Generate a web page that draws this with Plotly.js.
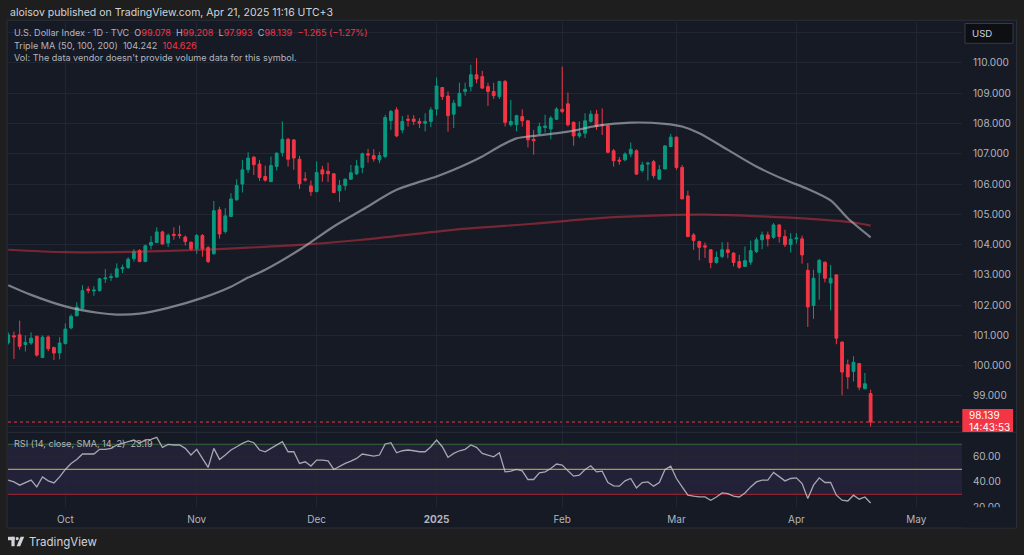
<!DOCTYPE html>
<html><head><meta charset="utf-8">
<script src="https://cdn.plot.ly/plotly-3.0.1.min.js"></script>
<style>html,body{margin:0;padding:0;background:#1e1e1e;overflow:hidden}#chart{width:1024px;height:555px}</style>
</head><body><div id="chart"></div>
<script>
const dates = ['2024-09-17','2024-09-18','2024-09-19','2024-09-20','2024-09-23','2024-09-24','2024-09-25','2024-09-26','2024-09-27','2024-09-30',
'2024-10-01','2024-10-02','2024-10-03','2024-10-04','2024-10-07','2024-10-08','2024-10-09','2024-10-10','2024-10-11','2024-10-14',
'2024-10-15','2024-10-16','2024-10-17','2024-10-18','2024-10-21','2024-10-22','2024-10-23','2024-10-24','2024-10-25','2024-10-28',
'2024-10-29','2024-10-30','2024-10-31','2024-11-01','2024-11-04','2024-11-05','2024-11-06','2024-11-07','2024-11-08','2024-11-11',
'2024-11-12','2024-11-13','2024-11-14','2024-11-15','2024-11-18','2024-11-19','2024-11-20','2024-11-21','2024-11-22','2024-11-25',
'2024-11-26','2024-11-27','2024-11-28','2024-11-29','2024-12-02','2024-12-03','2024-12-04','2024-12-05','2024-12-06','2024-12-09',
'2024-12-10','2024-12-11','2024-12-12','2024-12-13','2024-12-16','2024-12-17','2024-12-18','2024-12-19','2024-12-20','2024-12-23',
'2024-12-24','2024-12-26','2024-12-27','2024-12-30','2024-12-31','2025-01-02','2025-01-03','2025-01-06','2025-01-07','2025-01-08',
'2025-01-09','2025-01-10','2025-01-13','2025-01-14','2025-01-15','2025-01-16','2025-01-17','2025-01-20','2025-01-21','2025-01-22',
'2025-01-23','2025-01-24','2025-01-27','2025-01-28','2025-01-29','2025-01-30','2025-01-31','2025-02-03','2025-02-04','2025-02-05',
'2025-02-06','2025-02-07','2025-02-10','2025-02-11','2025-02-12','2025-02-13','2025-02-14','2025-02-17','2025-02-18','2025-02-19',
'2025-02-20','2025-02-21','2025-02-24','2025-02-25','2025-02-26','2025-02-27','2025-02-28','2025-03-03','2025-03-04','2025-03-05',
'2025-03-06','2025-03-07','2025-03-10','2025-03-11','2025-03-12','2025-03-13','2025-03-14','2025-03-17','2025-03-18','2025-03-19',
'2025-03-20','2025-03-21','2025-03-24','2025-03-25','2025-03-26','2025-03-27','2025-03-28','2025-03-31','2025-04-01','2025-04-02',
'2025-04-03','2025-04-04','2025-04-07','2025-04-08','2025-04-09','2025-04-10','2025-04-11','2025-04-14','2025-04-15','2025-04-16',
'2025-04-17','2025-04-21'];

const openP = [100.76,100.99,101.02,100.70,100.75,100.97,100.27,100.95,100.60,100.42,
100.73,101.25,101.65,101.90,102.53,102.47,102.48,102.87,102.91,102.93,
103.20,103.24,103.54,103.80,103.44,103.98,104.07,104.42,104.05,104.34,
104.33,104.25,104.08,103.86,104.30,103.90,103.70,105.15,104.43,104.93,
105.48,106.00,106.47,106.89,106.66,106.25,106.08,106.58,107.04,107.48,
107.46,106.82,106.17,105.94,105.75,106.47,106.42,106.34,105.78,105.95,
106.16,106.34,106.55,107.00,106.94,106.80,106.91,108.10,108.45,107.79,
108.14,108.15,108.07,108.01,108.07,108.48,109.19,108.91,108.31,108.58,
109.06,109.22,109.61,109.55,109.22,109.06,108.89,109.39,107.96,107.96,
108.23,108.09,107.48,107.68,107.87,107.82,108.14,108.47,108.65,108.04,
107.59,107.68,108.07,108.31,107.97,107.92,107.10,106.79,106.80,106.99,
107.10,106.45,106.66,106.74,106.16,106.50,107.24,107.55,106.55,105.61,
104.32,104.10,103.96,103.83,103.41,103.61,103.83,103.72,103.44,103.28,
103.42,103.77,104.16,104.32,104.24,104.65,104.27,104.00,104.19,104.19,
103.15,101.99,103.08,103.42,102.73,103.00,100.78,100.03,99.81,100.07,
99.24,99.078];
const highP = [101.10,101.13,101.49,101.00,101.10,101.00,101.00,101.00,100.63,100.94,
101.40,101.70,102.10,102.66,102.62,102.63,102.90,103.19,103.05,103.38,
103.34,103.58,103.85,103.85,104.00,104.28,104.57,104.46,104.37,104.57,
104.63,104.30,104.10,104.35,104.35,103.95,105.44,105.25,105.20,105.70,
106.16,106.80,107.05,106.92,106.80,106.61,106.91,107.05,108.07,107.52,
107.48,106.93,106.39,106.12,106.75,106.60,106.71,106.36,106.14,106.19,
106.63,106.80,107.04,107.16,107.15,107.07,108.29,108.45,108.54,108.25,
108.29,108.28,108.18,108.34,108.54,109.52,109.20,109.06,108.78,109.35,
109.35,109.94,110.16,109.74,109.35,109.35,109.41,109.44,108.78,108.29,
108.47,108.12,107.79,108.03,108.29,108.25,108.54,109.88,109.02,108.07,
108.07,108.34,108.43,108.45,108.50,107.96,107.16,106.89,107.05,107.37,
107.15,106.74,106.74,106.80,106.63,107.29,107.66,107.57,106.63,105.78,
104.38,104.13,104.07,103.85,103.77,104.08,104.08,103.74,103.66,103.94,
104.13,104.24,104.43,104.43,104.71,104.67,104.49,104.38,104.38,104.30,
103.39,103.17,103.53,103.44,103.33,103.02,100.80,100.20,100.31,100.09,
99.76,99.208];
const lowP = [100.70,100.22,100.53,100.47,100.69,100.30,100.25,100.48,100.19,100.21,
100.70,101.20,101.63,101.87,102.39,102.31,102.45,102.73,102.80,102.90,
103.06,103.20,103.44,103.42,103.42,103.84,104.05,104.00,103.92,104.16,
104.20,103.97,103.80,103.69,103.60,103.39,103.67,104.20,104.37,104.91,
105.45,105.72,106.36,106.30,106.11,106.08,106.07,106.45,106.91,106.58,
106.47,105.84,106.08,105.61,105.73,106.08,106.07,105.70,105.41,105.79,
106.14,106.30,106.36,106.71,106.74,106.69,106.85,107.79,107.55,107.68,
107.90,107.95,107.85,107.74,107.88,108.26,108.78,107.73,107.85,108.56,
108.92,109.06,109.33,109.14,108.58,108.81,108.81,107.90,107.90,107.74,
107.90,107.21,106.97,107.62,107.70,107.48,108.12,108.34,107.90,107.27,
107.52,107.52,108.03,107.79,107.62,107.02,106.58,106.64,106.75,106.89,
106.30,106.38,106.12,106.19,106.14,106.49,107.22,106.47,105.50,104.24,
103.83,103.48,103.56,103.22,103.37,103.55,103.55,103.28,103.20,103.26,
103.33,103.72,103.85,103.94,104.19,104.07,103.92,103.74,104.03,103.37,
101.28,101.55,102.18,102.75,101.83,100.71,99.02,99.23,99.48,99.19,
99.22,97.993];
const closeP = [101.02,100.95,100.64,100.77,100.91,100.35,100.94,100.56,100.42,100.75,
101.21,101.63,101.94,102.48,102.49,102.50,102.87,102.90,102.94,103.20,
103.24,103.52,103.77,103.44,103.96,104.07,104.42,104.02,104.31,104.30,
104.30,104.10,103.86,104.30,103.86,103.44,105.12,104.35,104.95,105.51,
105.95,106.47,106.86,106.64,106.22,106.13,106.61,107.02,107.48,106.82,
106.86,106.01,106.14,105.75,106.38,106.33,106.34,105.72,105.95,106.16,
106.37,106.60,107.00,106.96,106.83,106.94,108.20,108.40,107.59,108.07,
108.11,108.07,108.01,108.07,108.45,109.24,108.89,108.26,108.67,109.00,
109.13,109.61,109.47,109.17,109.06,108.92,109.39,108.04,108.07,108.26,
108.09,107.46,107.43,107.90,107.92,108.18,108.48,108.40,107.96,107.59,
107.68,108.09,108.31,107.90,107.94,107.05,106.77,106.76,106.99,107.15,
106.33,106.63,106.69,106.28,106.47,107.26,107.55,106.55,105.51,104.27,
104.14,103.91,103.92,103.41,103.58,103.83,103.74,103.41,103.25,103.47,
103.80,104.16,104.32,104.19,104.65,104.27,104.00,104.18,104.22,103.66,
101.94,102.89,103.48,102.89,102.89,100.91,99.79,99.63,100.11,99.29,
99.404,98.139];

const ma50Dates = ['2024-09-17','2024-09-23','2024-10-01','2024-10-09','2024-10-14','2024-10-18','2024-10-25','2024-11-04','2024-11-11','2024-11-14',
'2024-11-19','2024-11-27','2024-12-05','2024-12-12','2024-12-20','2025-01-02','2025-01-07','2025-01-14','2025-01-17','2025-01-22',
'2025-01-27','2025-02-04','2025-02-11','2025-02-19','2025-02-27','2025-03-04','2025-03-07','2025-03-14','2025-03-21','2025-03-28',
'2025-04-03','2025-04-09','2025-04-14','2025-04-21'];
const ma50Values = [102.66,102.34,101.96,101.74,101.69,101.72,101.91,102.24,102.61,102.91,
103.17,103.83,104.60,105.15,105.81,106.25,106.47,106.91,107.24,107.51,
107.59,107.73,107.92,108.03,107.99,107.90,107.68,107.13,106.58,106.14,
105.84,105.46,104.87,104.242];
const ma200Dates = ['2024-09-17','2024-10-01','2024-10-18','2024-11-04','2024-11-14','2024-11-27','2024-12-12','2025-01-07','2025-01-27','2025-02-11',
'2025-03-03','2025-03-10','2025-03-24','2025-04-04','2025-04-15','2025-04-21'];
const ma200Values = [103.83,103.75,103.77,103.83,103.90,103.99,104.16,104.49,104.69,104.87,
104.98,104.99,104.93,104.84,104.73,104.626];

const rsiValues = [41.4,40.0,37.4,39.2,41.4,36.0,44.0,40.8,39.2,44.0,
49.9,54.7,57.9,62.2,62.2,62.2,65.9,65.9,66.7,69.4,
70.7,72.0,73.4,70.7,73.4,73.9,75.5,67.5,69.9,69.4,
69.4,66.7,61.4,65.9,58.7,51.5,66.7,57.9,61.4,65.4,
68.0,70.7,72.6,71.2,65.4,64.0,66.7,69.4,72.0,64.0,
64.0,54.7,56.0,52.6,57.4,57.4,56.8,49.9,52.6,54.7,
56.6,58.7,62.2,61.4,60.6,61.4,70.2,71.2,63.2,64.8,
65.4,64.8,64.0,64.0,68.0,73.4,68.0,59.5,62.7,64.8,
65.9,69.4,67.5,62.7,61.4,60.0,63.2,48.0,48.5,49.9,
48.8,41.9,41.9,47.2,48.0,50.7,54.2,53.4,48.8,44.6,
45.4,49.9,52.8,48.0,48.6,39.5,36.8,36.6,40.8,42.7,
35.2,39.5,40.0,36.6,39.5,49.9,52.6,42.7,36.0,29.4,
28.6,28.0,28.0,25.4,28.0,31.2,30.7,28.6,28.0,31.2,
36.0,40.0,41.4,41.4,47.5,44.0,40.8,42.7,43.2,38.7,
26.7,37.4,43.2,39.5,39.5,29.4,25.4,24.8,29.4,26.2,
28.0,23.19];
const rsiLevels = [70, 50, 30];

const monthTicks = ['2024-10-01','2024-11-01','2024-12-02','2025-01-02','2025-02-03','2025-03-03','2025-04-01','2025-05-01'];
const monthLabels = ['Oct','Nov','Dec','<b>2025</b>','Feb','Mar','Apr','May'];
const priceTicks = [98,99,100,101,102,103,104,105,106,107,108,109,110,111];
const priceTickLabels = ['','99.000','100.000','101.000','102.000','103.000','104.000','105.000','106.000','107.000','108.000','109.000','110.000',''];
const rsiTicks = [20,40,60];
const rsiTickLabels = ['20.00','40.00','60.00'];
const holidays = ['2024-12-25','2025-01-01','2025-04-18'];

// layout helpers: pixel -> paper
const X = p => (p - 8) / 954;
const Y = p => (507 - p) / 485;

const BG = '#161a25', GRID = '#222633', TXT = '#b2b5be', RED = '#f23645', GREEN = '#089981';
const FONT = 'Inter, Roboto, sans-serif';

const n = closeP.length;
const lastO = openP[n-1], lastH = highP[n-1], lastL = lowP[n-1], lastC = closeP[n-1];
const chg = lastC - closeP[n-2];
const pct = chg / closeP[n-2] * 100;
const fmtS = v => (v < 0 ? '\u2212' : '+') + Math.abs(v).toFixed(3);
const red = s => `<span style="color:${RED}">${s}</span>`;
const sp = '\u00a0\u00a0';

const levelColors = ['#37693f','#b09a3a','#8c2330'];

const traces = [
  {type:'candlestick', x:dates, open:openP, high:highP, low:lowP, close:closeP, xaxis:'x', yaxis:'y',
   increasing:{line:{color:GREEN,width:1}, fillcolor:GREEN},
   decreasing:{line:{color:RED,width:1}, fillcolor:RED},
   whiskerwidth:0, hoverinfo:'skip', showlegend:false},
  {type:'scatter', mode:'lines', x:ma200Dates, y:ma200Values, xaxis:'x', yaxis:'y',
   line:{color:'rgba(242,54,69,0.45)', width:2.2, shape:'spline', smoothing:0.8}, hoverinfo:'skip', showlegend:false},
  {type:'scatter', mode:'lines', x:ma50Dates, y:ma50Values, xaxis:'x', yaxis:'y',
   line:{color:'rgba(190,193,200,0.6)', width:2.2, shape:'spline', smoothing:0.8}, hoverinfo:'skip', showlegend:false},
  ...rsiLevels.map((v,i) => ({type:'scatter', mode:'lines', x:['2024-09-16 23:00','2025-05-13 00:00'], y:[v,v], xaxis:'x', yaxis:'y2',
   line:{color:levelColors[i], width:1.2}, hoverinfo:'skip', showlegend:false})),
  {type:'scatter', mode:'lines', x:dates, y:rsiValues, xaxis:'x', yaxis:'y2',
   line:{color:'rgba(200,201,210,0.8)', width:1.3}, hoverinfo:'skip', showlegend:false}
];

const shapes = [
  {type:'rect', xref:'paper', yref:'paper', x0:X(7), x1:X(1016.5), y0:Y(528), y1:Y(20.3), fillcolor:BG, line:{color:'#2a2e39', width:1}, layer:'below'},
  {type:'rect', xref:'paper', yref:'y2', x0:0, x1:1, y0:rsiLevels[2], y1:rsiLevels[0], fillcolor:'rgba(126,87,194,0.12)', line:{width:0}, layer:'below'},
  {type:'line', xref:'paper', yref:'y', x0:0, x1:1, y0:lastC, y1:lastC, line:{color:RED, width:1, dash:'dot'}, layer:'below'},
  {type:'line', xref:'paper', yref:'paper', x0:X(7.5), x1:X(1016), y0:Y(432.3), y1:Y(432.3), line:{color:'#2a2e39', width:1}, layer:'above'},
  {type:'rect', xref:'paper', yref:'paper', x0:X(962.3), x1:X(1013), y0:Y(432), y1:Y(409), fillcolor:RED, line:{width:0}, layer:'above'},
  {type:'rect', xref:'paper', yref:'paper', x0:X(962.5), x1:X(1016), y0:Y(527.5), y1:Y(507.2), fillcolor:BG, line:{width:0}, layer:'above'},
  {type:'rect', xref:'paper', yref:'paper', x0:X(965), x1:X(1013), y0:Y(43.3), y1:Y(23.5), fillcolor:'#0e0f12', line:{color:'#363a45', width:1}, layer:'above'},
  // TradingView logo
  {type:'rect', xref:'paper', yref:'paper', x0:X(8), x1:X(14.6), y0:Y(540.2), y1:Y(536.8), fillcolor:'#d1d4dc', line:{width:0}, layer:'above'},
  {type:'rect', xref:'paper', yref:'paper', x0:X(11.4), x1:X(14.6), y0:Y(546.2), y1:Y(536.8), fillcolor:'#d1d4dc', line:{width:0}, layer:'above'},
  {type:'circle', xref:'paper', yref:'paper', x0:X(15.6), x1:X(18.8), y0:Y(540.2), y1:Y(537), fillcolor:'#d1d4dc', line:{width:0}, layer:'above'},
  {type:'path', xref:'paper', yref:'paper', path:`M${X(16.6)},${Y(546.2)} L${X(20.6)},${Y(536.8)} L${X(24.2)},${Y(536.8)} L${X(20.2)},${Y(546.2)} Z`, fillcolor:'#d1d4dc', line:{width:0}, layer:'above'}
];

const ann = (x, y, text, size, color, extra) => Object.assign({xref:'paper', yref:'paper', x:X(x), y:Y(y), text:text, showarrow:false,
  xanchor:'left', yanchor:'middle', align:'left', font:{family:FONT, size:size, color:color}}, extra || {});

const LS = 9.1;
const annotations = [
  ann(8, 12, 'aloisov published on TradingView.com, Apr 21, 2025 11:16 UTC+3', 10.5, '#d1d4dc'),
  ann(12, 32, 'U.S. Dollar Index \u00b7 1D \u00b7 TVC' + sp + 'O' + red(lastO.toFixed(3)) + sp + 'H' + red(lastH.toFixed(3)) + sp + 'L' + red(lastL.toFixed(3)) + sp + 'C' + red(lastC.toFixed(3)) + sp + red(fmtS(chg) + ' (' + (pct<0?'\u2212':'+') + Math.abs(pct).toFixed(2) + '%)'), LS, TXT),
  ann(12, 45, 'Triple MA (50, 100, 200)' + sp + ma50Values[ma50Values.length-1].toFixed(3) + sp + red(ma200Values[ma200Values.length-1].toFixed(3)), LS, TXT),
  ann(12, 58, "Vol: The data vendor doesn't provide volume data for this symbol.", LS, TXT),
  ann(12, 443.5, 'RSI (14, close, SMA, 14, 2)' + sp + rsiValues[n-1].toFixed(2), LS, TXT),
  ann(970, 33.5, 'USD', 9.6, '#d1d4dc'),
  ann(967, 414.5, lastC.toFixed(3), 10, '#ffffff'),
  ann(967, 426.5, '14:43:53', 10, '#ffffff'),
  ann(26.5, 541.5, 'TradingView', 11.5, '#d1d4dc')
];

const layout = {
  width:1024, height:555, paper_bgcolor:'#1e1e1e', plot_bgcolor:'rgba(0,0,0,0)',
  margin:{l:8, r:62, t:22, b:48}, showlegend:false, hovermode:false, dragmode:false,
  font:{family:FONT, color:TXT, size:10},
  xaxis:{type:'date', anchor:'y2', domain:[0,1], range:['2024-09-16 23:00','2025-05-13 00:00'],
    rangebreaks:[{bounds:['sat','mon']},{values:holidays}],
    rangeslider:{visible:false}, tickvals:monthTicks, ticktext:monthLabels, showgrid:true, gridcolor:GRID, gridwidth:1,
    zeroline:false, showline:false, ticks:'outside', ticklen:3, tickcolor:'rgba(0,0,0,0)',
    tickfont:{family:FONT, size:10, color:TXT}, fixedrange:true},
  yaxis:{domain:[Y(432.3), 1], range:[97.80, 111.354], side:'right', anchor:'x', tickvals:priceTicks, ticktext:priceTickLabels,
    showgrid:true, gridcolor:GRID, zeroline:false, showline:false, ticks:'outside', ticklen:8, tickcolor:'rgba(0,0,0,0)',
    tickfont:{family:FONT, size:10, color:TXT}, fixedrange:true},
  yaxis2:{domain:[0, Y(432.3)], range:[20, 79.5], side:'right', anchor:'x', tickvals:rsiTicks, ticktext:rsiTickLabels,
    showgrid:true, gridcolor:GRID, zeroline:false, showline:false, ticks:'outside', ticklen:8, tickcolor:'rgba(0,0,0,0)',
    tickfont:{family:FONT, size:10, color:TXT}, fixedrange:true},
  shapes:shapes, annotations:annotations
};

Plotly.newPlot('chart', traces, layout, {staticPlot:true, displayModeBar:false});
</script>
</body></html>
